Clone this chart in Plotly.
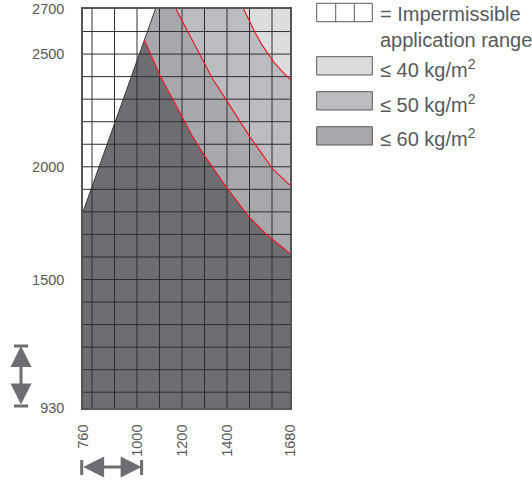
import plotly.graph_objects as go

# ── axis limits and ticks ─────────────────────────────────────────────────────
x_min, x_max = 760, 1680
y_min, y_max = 930, 2700
x_ticks = [760, 1000, 1200, 1400, 1680]
y_ticks = [930, 1500, 2000, 2500, 2700]
grid_x = [800, 900, 1000, 1100, 1200, 1300, 1400, 1500, 1600]
grid_y = [1000, 1100, 1200, 1300, 1400, 1500, 1600, 1700, 1800, 1900,
          2000, 2100, 2200, 2300, 2400, 2500, 2600]

# ── boundary of the impermissible range (straight line) ───────────────────────
boundary_x = [760, 1082]
boundary_y = [1800, 2700]

# ── limit curves ──────────────────────────────────────────────────────────────
curve60_x = [1033, 1104, 1156, 1185, 1244, 1296, 1341, 1371, 1400, 1496, 1571, 1630, 1680]
curve60_y = [2561, 2401, 2305, 2250, 2140, 2055, 1988, 1945, 1905, 1780, 1704, 1655, 1615]

curve50_x = [1173, 1304, 1338, 1363, 1400, 1501, 1600, 1640, 1680]
curve50_y = [2700, 2445, 2386, 2349, 2290, 2134, 1994, 1954, 1918]

curve40_x = [1474, 1500, 1525, 1556, 1585, 1610, 1645, 1680]
curve40_y = [2700, 2645, 2595, 2540, 2495, 2462, 2423, 2388]

legend_labels = ['= Impermissible<br>application range',
                 '≤ 40 kg/m<sup>2</sup>', '≤ 50 kg/m<sup>2</sup>', '≤ 60 kg/m<sup>2</sup>']

# ── colours ───────────────────────────────────────────────────────────────────
c40, c50, c60, c_dark = '#dcdddf', '#bcbdc0', '#a7a8ab', '#6d6e71'
c_red = '#ec1c2a'
c_text = '#58595b'
font_family = 'Liberation Sans, Arial, sans-serif'

fig = go.Figure()


def add_fill(xs, ys, color):
    fig.add_trace(go.Scatter(x=xs, y=ys, mode='lines', fill='toself', fillcolor=color,
                             line=dict(width=0), hoverinfo='skip', showlegend=False))


# permissible area (≤ 60)
add_fill([x_min] + boundary_x + [x_max, x_max],
         [y_min] + boundary_y + [y_max, y_min], c60)
# ≤ 50
add_fill(curve50_x + [x_max], curve50_y + [y_max], c50)
# ≤ 40
add_fill(curve40_x + [x_max], curve40_y + [y_max], c40)
# dark area below the first curve
add_fill([x_min, boundary_x[0]] + curve60_x + [x_max],
         [y_min, boundary_y[0]] + curve60_y + [y_min], c_dark)

# grid on top of the fills
gx, gy = [], []
for v in grid_x:
    gx += [v, v, None]
    gy += [y_min, y_max, None]
for v in grid_y:
    gx += [x_min, x_max, None]
    gy += [v, v, None]
fig.add_trace(go.Scatter(x=gx, y=gy, mode='lines', line=dict(color='#2e2e2e', width=1),
                         hoverinfo='skip', showlegend=False))

# boundary line
fig.add_trace(go.Scatter(x=boundary_x, y=boundary_y, mode='lines',
                         line=dict(color='#3a3a3a', width=1), hoverinfo='skip', showlegend=False))

# red limit curves
for cx, cy in [(curve60_x, curve60_y), (curve50_x, curve50_y), (curve40_x, curve40_y)]:
    fig.add_trace(go.Scatter(x=cx, y=cy, mode='lines', line=dict(color=c_red, width=1.2),
                             hoverinfo='skip', showlegend=False))

# ── legend (boxes + text) ─────────────────────────────────────────────────────
shapes = []
box_x0, box_x1 = 1.129, 1.3976
boxes = [(0.9682, 1.0143, 'white'), (0.8346, 0.8805, c40),
         (0.7469, 0.7927, c50), (0.6591, 0.7050, c60)]
for y0, y1, col in boxes:
    shapes.append(dict(type='rect', xref='paper', yref='paper', x0=box_x0, x1=box_x1,
                       y0=y0, y1=y1, fillcolor=col, line=dict(color=c_text, width=1)))
for xd in [1.2208, 1.3106]:
    shapes.append(dict(type='line', xref='paper', yref='paper', x0=xd, x1=xd,
                       y0=0.9682, y1=1.0143, line=dict(color=c_text, width=1)))

annotations = []
text_y = [0.9537, 0.8514, 0.7637, 0.6774]
for lbl, ty in zip(legend_labels, text_y):
    annotations.append(dict(text=lbl, xref='paper', yref='paper', x=1.425, y=ty,
                             xanchor='left', yanchor='middle', align='left', showarrow=False,
                             font=dict(size=20, color=c_text, family=font_family)))

# ── scale arrows ──────────────────────────────────────────────────────────────
arrow_col = '#6d6e71'
# vertical
annotations.append(dict(x=-0.2995, y=0.1554, xref='paper', yref='paper', ax=0, ay=60,
                        text='', showarrow=True, arrowhead=2, startarrowhead=2,
                        arrowside='end+start', arrowwidth=3, arrowsize=1.4, startarrowsize=1.4,
                        arrowcolor=arrow_col, standoff=0, startstandoff=0))
for yb in [0.1554, 0.0050]:
    shapes.append(dict(type='line', xref='paper', yref='paper', x0=-0.3333, x1=-0.2657,
                       y0=yb, y1=yb, line=dict(color=arrow_col, width=3)))
# horizontal
annotations.append(dict(x=0.2831, y=-0.1479, xref='paper', yref='paper', ax=-60, ay=0,
                        text='', showarrow=True, arrowhead=2, startarrowhead=2,
                        arrowside='end+start', arrowwidth=3, arrowsize=1.4, startarrowsize=1.4,
                        arrowcolor=arrow_col, standoff=0, startstandoff=0))
for xb in [-0.0063, 0.2831]:
    shapes.append(dict(type='line', xref='paper', yref='paper', x0=xb, x1=xb,
                       y0=-0.1303, y1=-0.1679, line=dict(color=arrow_col, width=3)))

fig.update_layout(
    width=532, height=481,
    margin=dict(l=83, r=242, t=9, b=73),
    plot_bgcolor='white', paper_bgcolor='white',
    font=dict(family=font_family, color=c_text, size=14),
    shapes=shapes, annotations=annotations,
    showlegend=False,
)
fig.update_xaxes(range=[x_min, x_max], tickvals=x_ticks, tickangle=-90, automargin=False,
                 showgrid=False, zeroline=False, ticks='outside', ticklen=9,
                 tickcolor='rgba(0,0,0,0)', showline=True, linecolor='#555', linewidth=1.5,
                 mirror=True, tickfont=dict(size=14.5, color=c_text))
fig.update_yaxes(range=[y_min, y_max], tickvals=y_ticks, automargin=False,
                 showgrid=False, zeroline=False, ticks='outside', ticklen=14,
                 tickcolor='rgba(0,0,0,0)', showline=True, linecolor='#555', linewidth=1.5,
                 mirror=True, tickfont=dict(size=14.5, color=c_text))

# drop the page's default body margin so the figure sits at the window corner
fig.write_html('out.html', config={'displayModeBar': False},
               post_script="document.body.style.margin='0';")
